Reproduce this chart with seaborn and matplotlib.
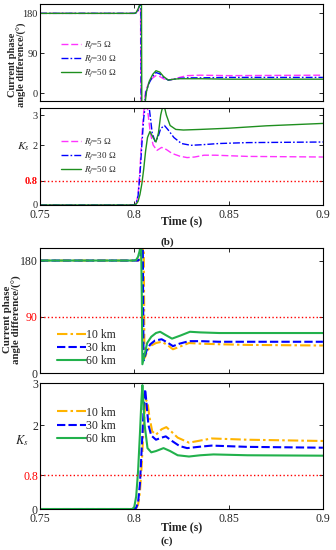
import matplotlib.pyplot as plt
import seaborn as sns

# ---- (b) fault resistance cases ----
rf_labels = [r"$R_f$=5 Ω", r"$R_f$=30 Ω", r"$R_f$=50 Ω"]

t_rf5_ang = [0.75, 0.800, 0.801, 0.802, 0.8030, 0.8033, 0.8035, 0.8050, 0.8060, 0.8075, 0.8095,
             0.8115, 0.8135, 0.8155, 0.8180, 0.8210, 0.8240, 0.8280, 0.8350, 0.8500, 0.9000]
rf5_ang = [180, 180, 181, 186, 200, 215, -40, -30, 5, 22, 34, 40, 38, 33, 30, 32, 36, 40, 41, 40, 41]

t_rf30_ang = [0.75, 0.800, 0.801, 0.802, 0.8030, 0.8035, 0.8037, 0.8052, 0.8062, 0.8077, 0.8097,
              0.8115, 0.8135, 0.8155, 0.8180, 0.8210, 0.8240, 0.8280, 0.8350, 0.8500, 0.9000]
rf30_ang = [180, 180, 181, 187, 200, 215, -40, -30, 3, 22, 38, 47, 44, 36, 30, 32, 34, 35, 35, 36, 36]

t_rf50_ang = [0.75, 0.800, 0.801, 0.802, 0.8030, 0.8038, 0.8040, 0.8055, 0.8065, 0.8080, 0.8098,
              0.8115, 0.8135, 0.8155, 0.8180, 0.8210, 0.8240, 0.8280, 0.8350, 0.8500, 0.9000]
rf50_ang = [180, 180, 182, 190, 200, 215, -40, -30, 5, 28, 43, 51, 48, 38, 30, 32, 33, 33, 33, 32, 32]

t_rf5_ks = [0.75, 0.800, 0.801, 0.802, 0.803, 0.804, 0.805, 0.806, 0.807, 0.8085, 0.810, 0.812,
            0.8145, 0.817, 0.820, 0.824, 0.828, 0.832, 0.837, 0.843, 0.86, 0.9]
rf5_ks = [0, 0, 0.05, 0.35, 1.2, 2.3, 3.1, 3.5, 3.2, 2.4, 2.0, 1.82, 1.92, 1.85, 1.72, 1.63,
          1.58, 1.60, 1.66, 1.66, 1.62, 1.60]

t_rf30_ks = [0.75, 0.800, 0.801, 0.802, 0.803, 0.804, 0.805, 0.806, 0.807, 0.808, 0.8095, 0.811,
             0.8125, 0.814, 0.816, 0.818, 0.821, 0.825, 0.830, 0.836, 0.845, 0.86, 0.9]
rf30_ks = [0, 0, 0.04, 0.3, 1.0, 2.0, 2.9, 3.4, 3.6, 3.2, 2.4, 2.12, 2.25, 2.55, 2.65, 2.5, 2.25,
           2.05, 1.99, 2.01, 2.05, 2.08, 2.10]

t_rf50_ks = [0.75, 0.800, 0.801, 0.802, 0.803, 0.804, 0.805, 0.806, 0.807, 0.8083, 0.810, 0.8115,
             0.8128, 0.814, 0.8155, 0.817, 0.819, 0.822, 0.826, 0.835, 0.85, 0.87, 0.9]
rf50_ks = [0, 0, 0.03, 0.12, 0.35, 0.7, 1.2, 1.8, 2.25, 2.45, 2.25, 2.1, 2.4, 3.0, 3.4, 3.0, 2.65,
           2.52, 2.5, 2.52, 2.56, 2.64, 2.72]

# ---- (c) fault distance cases ----
km_labels = ["10 km", "30 km", "60 km"]

t_km10_ang = [0.75, 0.800, 0.802, 0.803, 0.804, 0.8045, 0.805, 0.8054, 0.8058, 0.807, 0.809,
              0.8115, 0.8145, 0.8175, 0.8205, 0.824, 0.829, 0.835, 0.845, 0.86, 0.9]
km10_ang = [180, 180, 180, 181, 186, 195, 210, 24, 26, 36, 44, 48, 50, 45, 38, 42, 48, 47, 46, 45, 44]

t_km30_ang = [0.75, 0.800, 0.802, 0.803, 0.8035, 0.8040, 0.8045, 0.8049, 0.8052, 0.8065, 0.8085,
              0.811, 0.8145, 0.8175, 0.8205, 0.824, 0.829, 0.835, 0.845, 0.86, 0.9]
km30_ang = [180, 180, 180, 183, 190, 205, 210, 20, 22, 36, 46, 52, 54, 49, 43, 47, 51, 51, 50, 50, 50]

t_km60_ang = [0.75, 0.800, 0.801, 0.802, 0.8028, 0.8036, 0.8040, 0.8043, 0.8055, 0.8068, 0.809,
              0.8115, 0.8137, 0.8165, 0.820, 0.8245, 0.8295, 0.835, 0.845, 0.86, 0.9]
km60_ang = [180, 180, 181, 186, 195, 210, 120, 14, 30, 48, 58, 64, 66, 61, 55, 60, 66, 65, 64, 64, 64]

t_km10_ks = [0.75, 0.800, 0.801, 0.802, 0.803, 0.804, 0.805, 0.806, 0.807, 0.808, 0.8095, 0.8115,
             0.8145, 0.817, 0.8195, 0.823, 0.829, 0.835, 0.841, 0.86, 0.9]
km10_ks = [0, 0, 0.02, 0.1, 0.4, 1.1, 2.0, 2.6, 2.55, 2.2, 1.85, 1.77, 1.9, 1.95, 1.85, 1.7, 1.58,
           1.63, 1.68, 1.65, 1.62]

t_km30_ks = [0.75, 0.800, 0.801, 0.802, 0.803, 0.804, 0.805, 0.8058, 0.8065, 0.8075, 0.809, 0.8115,
             0.8145, 0.8167, 0.820, 0.824, 0.828, 0.834, 0.841, 0.86, 0.9]
km30_ks = [0, 0, 0.03, 0.15, 0.6, 1.5, 2.4, 2.85, 2.5, 2.0, 1.75, 1.65, 1.7, 1.73, 1.62, 1.5, 1.45,
           1.48, 1.51, 1.48, 1.46]

t_km60_ks = [0.75, 0.799, 0.800, 0.801, 0.802, 0.803, 0.8038, 0.8043, 0.8055, 0.807, 0.809, 0.8115,
             0.8155, 0.819, 0.823, 0.829, 0.835, 0.842, 0.86, 0.9]
km60_ks = [0, 0, 0.05, 0.3, 0.9, 1.8, 2.6, 2.95, 2.0, 1.45, 1.35, 1.38, 1.45, 1.38, 1.28, 1.25,
           1.28, 1.3, 1.28, 1.27]

xticks = [0.75, 0.8, 0.85, 0.9]
xtick_labels = ["0.75", "0.8", "0.85", "0.9"]

sns.set_style("ticks")
plt.rcParams["font.family"] = ["Liberation Serif", "DejaVu Serif"]
plt.rcParams["mathtext.fontset"] = "stix"

MAGENTA = "#ff33ff"
BLUE = "#0000ff"
GREEN_B = "#1f8f1f"
GREEN_C = "#22b14c"
YELLOW = "#ffb400"


def style_axes(ax, ylim, yticks, ytick_labels, tick_size, red_label=None, show_x=False):
    ax.set_xlim(0.75, 0.9)
    ax.set_ylim(*ylim)
    ax.set_xticks(xticks)
    ax.set_xticklabels(xtick_labels if show_x else [])
    ax.set_yticks(yticks)
    ax.set_yticklabels(ytick_labels)
    ax.tick_params(direction="in", top=True, right=True, length=3, width=0.7,
                   labelsize=tick_size, pad=1.5)
    ax.tick_params(axis="x", pad=3)
    for s in ax.spines.values():
        s.set_linewidth(0.8)
        s.set_color("black")
    if red_label is not None:
        ax.get_yticklabels()[red_label].set_color("red")


def draw(ax, series, labels, colors, styles, lw):
    for (t, v), lab, c, ls in zip(series, labels, colors, styles):
        sns.lineplot(x=t, y=v, color=c, linestyle=ls, linewidth=lw, label=lab, ax=ax, sort=False)


fig = plt.figure(figsize=(3.36, 5.5), dpi=100)
L, W = 0.119, 0.842

# (b) top: phase angle
ax1 = fig.add_axes([L, 0.8164, W, 0.1763])
draw(ax1, [(t_rf5_ang, rf5_ang), (t_rf30_ang, rf30_ang), (t_rf50_ang, rf50_ang)], rf_labels,
     [MAGENTA, BLUE, GREEN_B], [(0, (5, 2)), (0, (5, 1.5, 1.2, 1.5)), "-"], 1.0)
style_axes(ax1, (-17, 201), [0, 90, 180], ["0", "90", "180"], 7.5)
ax1.legend(loc="upper left", bbox_to_anchor=(0.06, 0.68), frameon=False, fontsize=6.5,
           handlelength=2.2, labelspacing=0.25, handletextpad=0.3, borderpad=0)
ax1.set_xlabel("")
ax1.set_ylabel("Current phase\nangle difference/(°)", fontsize=7.5, fontweight="bold",
               linespacing=1.05)
ax1.yaxis.set_label_coords(-0.045, 0.37)

# (b) bottom: Ks
ax2 = fig.add_axes([L, 0.6273, W, 0.1772])
draw(ax2, [(t_rf5_ks, rf5_ks), (t_rf30_ks, rf30_ks), (t_rf50_ks, rf50_ks)], rf_labels,
     [MAGENTA, BLUE, GREEN_B], [(0, (5, 2)), (0, (5, 1.5, 1.2, 1.5)), "-"], 1.0)
ax2.axhline(0.8, color="red", linestyle=":", linewidth=1.0)
style_axes(ax2, (0, 3.25), [0, 0.8, 2, 3], ["0", "0.8", "2", "3"], 7.5, red_label=1, show_x=True)
ax2.get_yticklabels()[1].set_fontweight("bold")
ax2.tick_params(axis="x", labelsize=8.5)
ax2.legend(loc="upper left", bbox_to_anchor=(0.06, 0.75), frameon=False, fontsize=6.5,
           handlelength=2.2, labelspacing=0.25, handletextpad=0.3, borderpad=0)
ax2.set_ylabel(r"$K_s$", fontsize=8.5, rotation=0, ha="center", va="center")
ax2.yaxis.set_label_coords(-0.057, 0.6)
ax2.set_xlabel("Time (s)", fontsize=8.5, fontweight="bold", va="top")
ax2.xaxis.set_label_coords(0.5, -0.11)

# (c) top: phase angle
ax3 = fig.add_axes([L, 0.3218, W, 0.2272])
draw(ax3, [(t_km10_ang, km10_ang), (t_km30_ang, km30_ang), (t_km60_ang, km60_ang)], km_labels,
     [YELLOW, BLUE, GREEN_C], [(0, (5, 1.5, 1.2, 1.5)), (0, (4, 1.5)), "-"], 1.5)
ax3.axhline(90, color="red", linestyle=":", linewidth=1.0)
style_axes(ax3, (0, 200), [0, 90, 180], ["0", "90", "180"], 8.5, red_label=1)
ax3.legend(loc="upper left", bbox_to_anchor=(0.04, 0.4), frameon=False, fontsize=8.5,
           handlelength=2.4, labelspacing=0.1, handletextpad=0.05, borderpad=0)
ax3.set_xlabel("")
ax3.set_ylabel("Current phase\nangle difference/(°)", fontsize=7.8, fontweight="bold",
               linespacing=1.0)
ax3.yaxis.set_label_coords(-0.064, 0.43)

# (c) bottom: Ks
ax4 = fig.add_axes([L, 0.0745, W, 0.2291])
draw(ax4, [(t_km10_ks, km10_ks), (t_km30_ks, km30_ks), (t_km60_ks, km60_ks)], km_labels,
     [YELLOW, BLUE, GREEN_C], [(0, (5, 1.5, 1.2, 1.5)), (0, (4, 1.5)), "-"], 1.5)
ax4.axhline(0.8, color="red", linestyle=":", linewidth=1.0)
style_axes(ax4, (0, 3), [0, 0.8, 2, 3], ["0", "0.8", "2", "3"], 8.5, red_label=1, show_x=True)
ax4.legend(loc="upper left", bbox_to_anchor=(0.04, 0.86), frameon=False, fontsize=8.5,
           handlelength=2.4, labelspacing=0.1, handletextpad=0.05, borderpad=0)
ax4.set_ylabel(r"$K_s$", fontsize=9, rotation=0, ha="center", va="center")
ax4.yaxis.set_label_coords(-0.064, 0.54)
ax4.set_xlabel("Time (s)", fontsize=8.5, fontweight="bold", va="top")
ax4.xaxis.set_label_coords(0.5, -0.095)

fig.text(0.497, 0.56, "(b)", ha="center", va="center", fontsize=8, fontweight="bold")
fig.text(0.497, 0.0164, "(c)", ha="center", va="center", fontsize=8, fontweight="bold")

fig.savefig("out.png", dpi=100)
